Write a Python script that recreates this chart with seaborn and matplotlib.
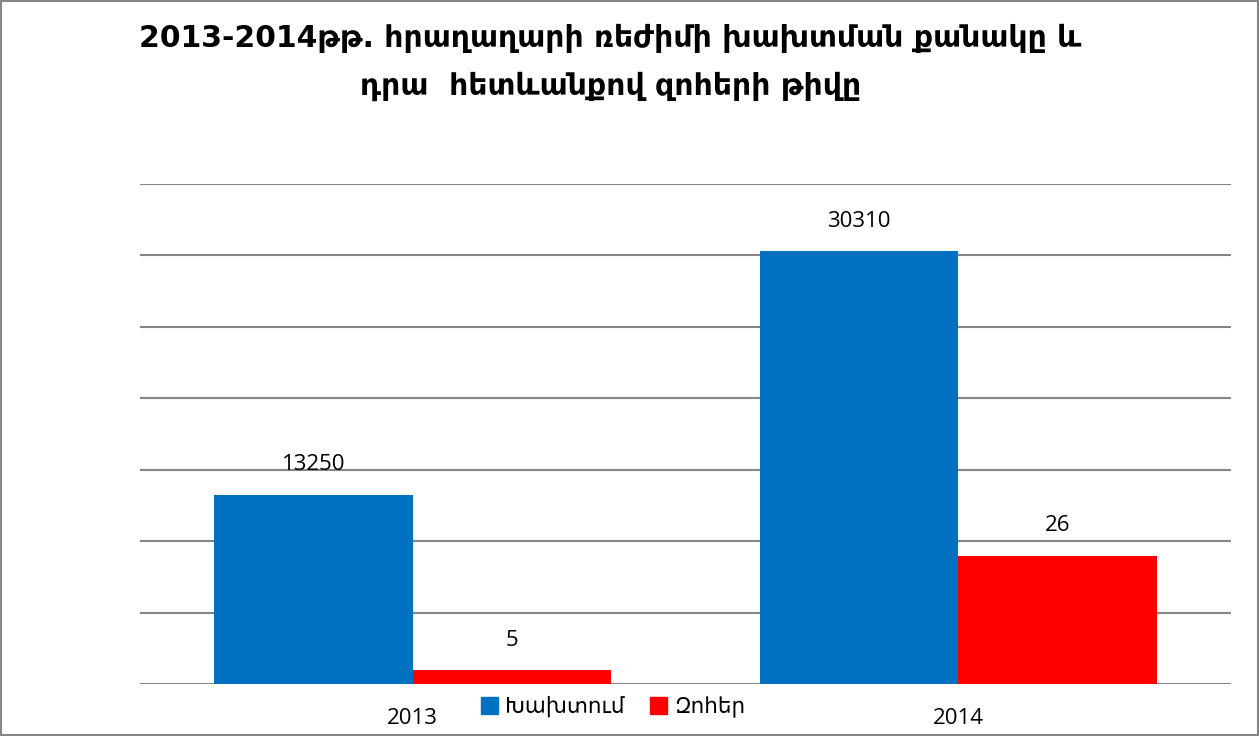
import pandas as pd
import matplotlib.pyplot as plt
import matplotlib.patches as mpatches
import seaborn as sns

tari = ['2013', '2014']
shark = ['Խախտում', 'Զոհեր']
khakhtum = [13250, 30310]
zoher = [5, 26]
guyn = {'Խախտում': '#0070C0', 'Զոհեր': '#FF0000'}

datos = pd.DataFrame({
    'tari': tari * 2,
    'shark': [shark[0]] * 2 + [shark[1]] * 2,
    'arjeq': khakhtum + zoher,
})

sns.set_style('white')
plt.rcParams['font.family'] = ['Open Sans', 'DejaVu Sans']
plt.rcParams['text.color'] = 'black'
plt.rcParams['xtick.color'] = 'black'

fig = plt.figure(figsize=(12.59, 7.36), dpi=100)
ax = fig.add_axes([0.1112, 0.0707, 0.8666, 0.6793])
ax2 = ax.twinx()

# same dodge on both axes, then keep only the series that belongs to each axis
for a in (ax, ax2):
    sns.barplot(data=datos, x='tari', y='arjeq', hue='shark', hue_order=shark,
                palette=guyn, width=0.728, order=tari, ax=a, legend=False,
                saturation=1, linewidth=0)
for p in ax.containers[1]:
    p.set_visible(False)
for p in ax2.containers[0]:
    p.set_visible(False)

ax.set_ylim(0, 35000)
ax.set_yticks(range(0, 35001, 5000))
ax.yaxis.grid(True, color='#868686', linewidth=1.5)
ax.set_axisbelow(True)
ax.set_yticklabels([])
ax2.set_ylim(2.42, 94.5)
ax2.set_yticks([])
ax.set_xlim(-0.5, 1.5)
for a in (ax, ax2):
    for s in a.spines.values():
        s.set_visible(False)
    a.set_xlabel('')
    a.set_ylabel('')
ax.tick_params(axis='x', length=0, pad=17, labelsize=16)
ax.tick_params(axis='y', length=0)

ax.bar_label(ax.containers[0], padding=14, fontsize=16)
ax2.bar_label(ax2.containers[1], padding=14, fontsize=16)

fig.suptitle('2013-2014թթ. հրաղաղարի ռեժիմի խախտման քանակը և\nդրա  հետևանքով զոհերի թիվը',
             x=0.485, y=0.968, fontsize=21.5, fontweight='bold', linespacing=1.8,
             family=['DejaVu Sans Condensed', 'DejaVu Sans'])

handles = [mpatches.Patch(color=guyn[s], label=s) for s in shark]
fig.legend(handles=handles, loc='center', bbox_to_anchor=(0.487, 0.039), ncol=2,
           frameon=False, fontsize=15.5, handlelength=0.8, handleheight=0.8,
           handletextpad=0.3, columnspacing=1.2)

fig.add_artist(mpatches.Rectangle((0.001, 0.001), 0.998, 0.997, transform=fig.transFigure,
                                  fill=False, edgecolor='#868686', linewidth=1.5))

fig.savefig('out.png', dpi=100)
